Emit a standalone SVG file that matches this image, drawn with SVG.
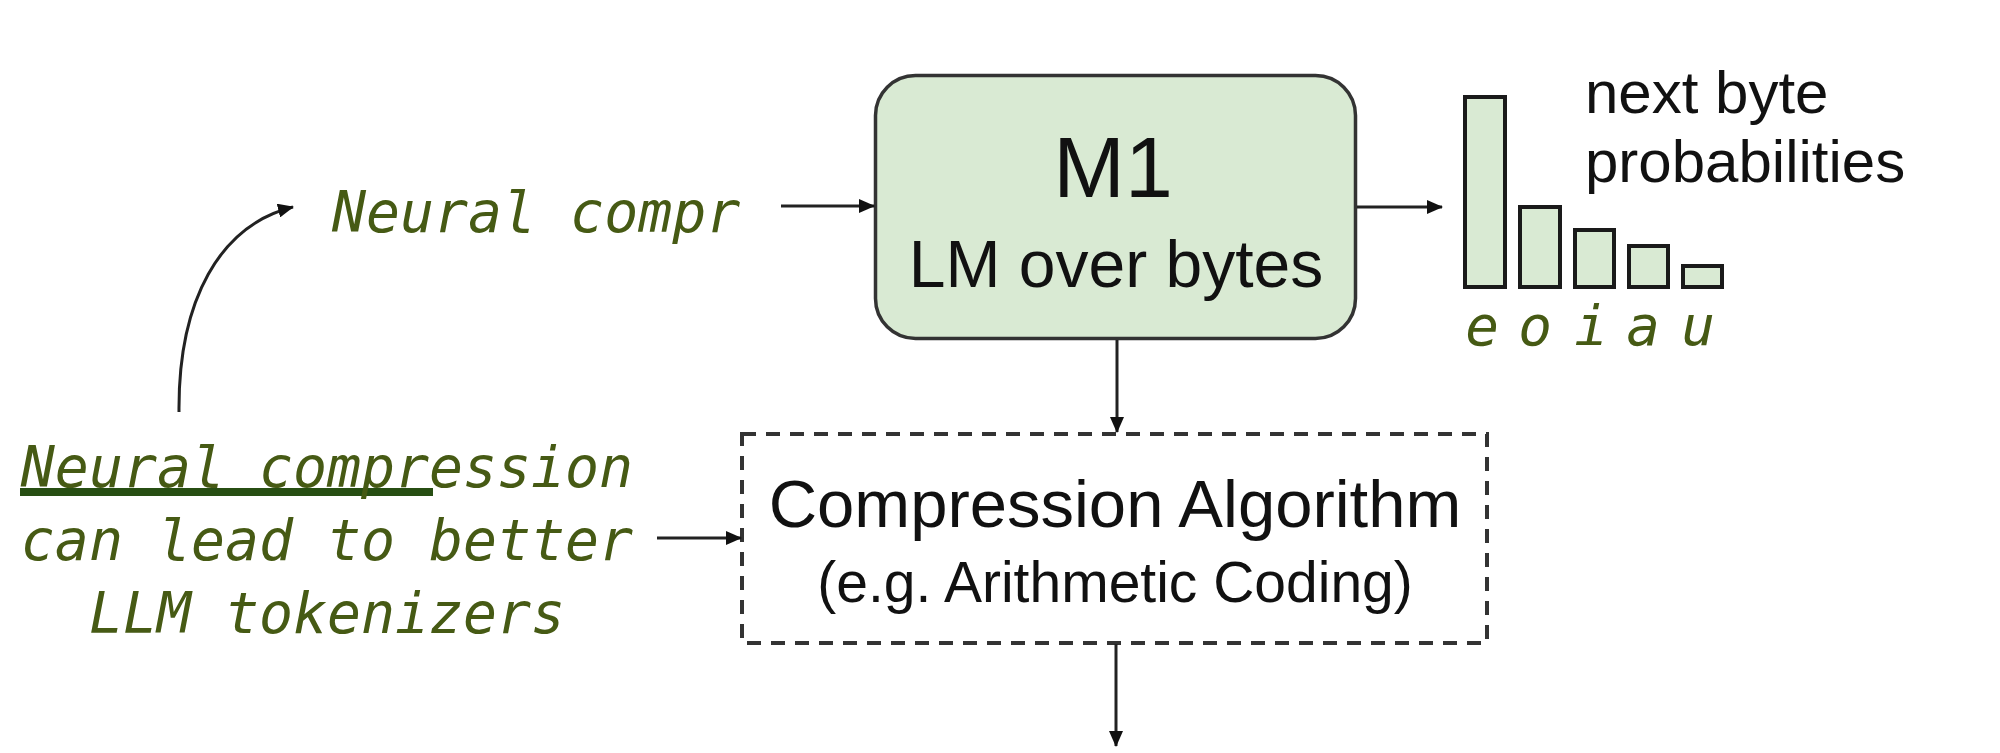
<svg xmlns="http://www.w3.org/2000/svg" width="2000" height="753" viewBox="0 0 2000 753">
<style>
.sans{font-family:"Liberation Sans",Arial,sans-serif;fill:#111}
.mono{font-family:"DejaVu Sans Mono","Liberation Mono",monospace;font-style:italic;fill:#465a14}
.conn{stroke:#222;stroke-width:3;fill:none}
.bar{fill:#d9ead3;stroke:#1a1a1a;stroke-width:4}
</style>
<defs>
<marker id="ah" markerUnits="userSpaceOnUse" markerWidth="16" markerHeight="14" refX="15" refY="7" orient="auto">
<path d="M0,0 L16,7 L0,14 Z" fill="#111"/>
</marker>
</defs>
<rect width="2000" height="753" fill="#ffffff"/>

<g id="m1">
<rect x="875.5" y="75.5" width="480" height="263" rx="40" ry="40" fill="#d9ead3" stroke="#333" stroke-width="3.5"/>
<text class="sans" x="1113" y="197" font-size="86" text-anchor="middle">M1</text>
<text class="sans" x="1116" y="287" font-size="66" text-anchor="middle">LM over bytes</text>
</g>

<g id="input-text">
<text class="mono" x="332" y="232" font-size="56.5">Neural compr</text>
</g>

<g id="probs">
<rect class="bar" x="1465" y="97" width="40" height="190"/>
<rect class="bar" x="1520" y="207" width="40" height="80"/>
<rect class="bar" x="1575" y="230" width="39" height="57"/>
<rect class="bar" x="1629" y="246" width="39" height="41"/>
<rect class="bar" x="1683" y="266" width="39" height="21"/>
<text class="mono" x="1482" y="345" font-size="56" text-anchor="middle">e</text>
<text class="mono" x="1535" y="345" font-size="56" text-anchor="middle">o</text>
<text class="mono" x="1591" y="345" font-size="56" text-anchor="middle">i</text>
<text class="mono" x="1643" y="345" font-size="56" text-anchor="middle">a</text>
<text class="mono" x="1698" y="345" font-size="56" text-anchor="middle">u</text>
<text class="sans" x="1585" y="113" font-size="60">next byte</text>
<text class="sans" x="1585" y="182" font-size="60">probabilities</text>
</g>

<g id="compression">
<rect x="742" y="434" width="745" height="209" fill="none" stroke="#333" stroke-width="4" stroke-dasharray="14 10"/>
<text class="sans" x="1115" y="527" font-size="67" text-anchor="middle">Compression Algorithm</text>
<text class="sans" x="1115" y="602" font-size="57" text-anchor="middle">(e.g. Arithmetic Coding)</text>
</g>

<g id="note">
<rect x="20" y="488" width="413" height="8" fill="#274e13"/>
<text class="mono" x="327" y="487" font-size="56.5" text-anchor="middle">Neural compression</text>
<text class="mono" x="327" y="560" font-size="56.5" text-anchor="middle">can lead to better</text>
<text class="mono" x="327" y="633" font-size="56.5" text-anchor="middle">LLM tokenizers</text>
</g>

<g id="connectors">
<path class="conn" d="M179,412 C178,300 220,225 293,207" marker-end="url(#ah)"/>
<path class="conn" d="M781,206 L874,206" marker-end="url(#ah)"/>
<path class="conn" d="M1357,207 L1442,207" marker-end="url(#ah)"/>
<path class="conn" d="M1117,340 L1117,432" marker-end="url(#ah)"/>
<path class="conn" d="M657,538 L741,538" marker-end="url(#ah)"/>
<path class="conn" d="M1116,644 L1116,746" marker-end="url(#ah)"/>
</g>
</svg>
